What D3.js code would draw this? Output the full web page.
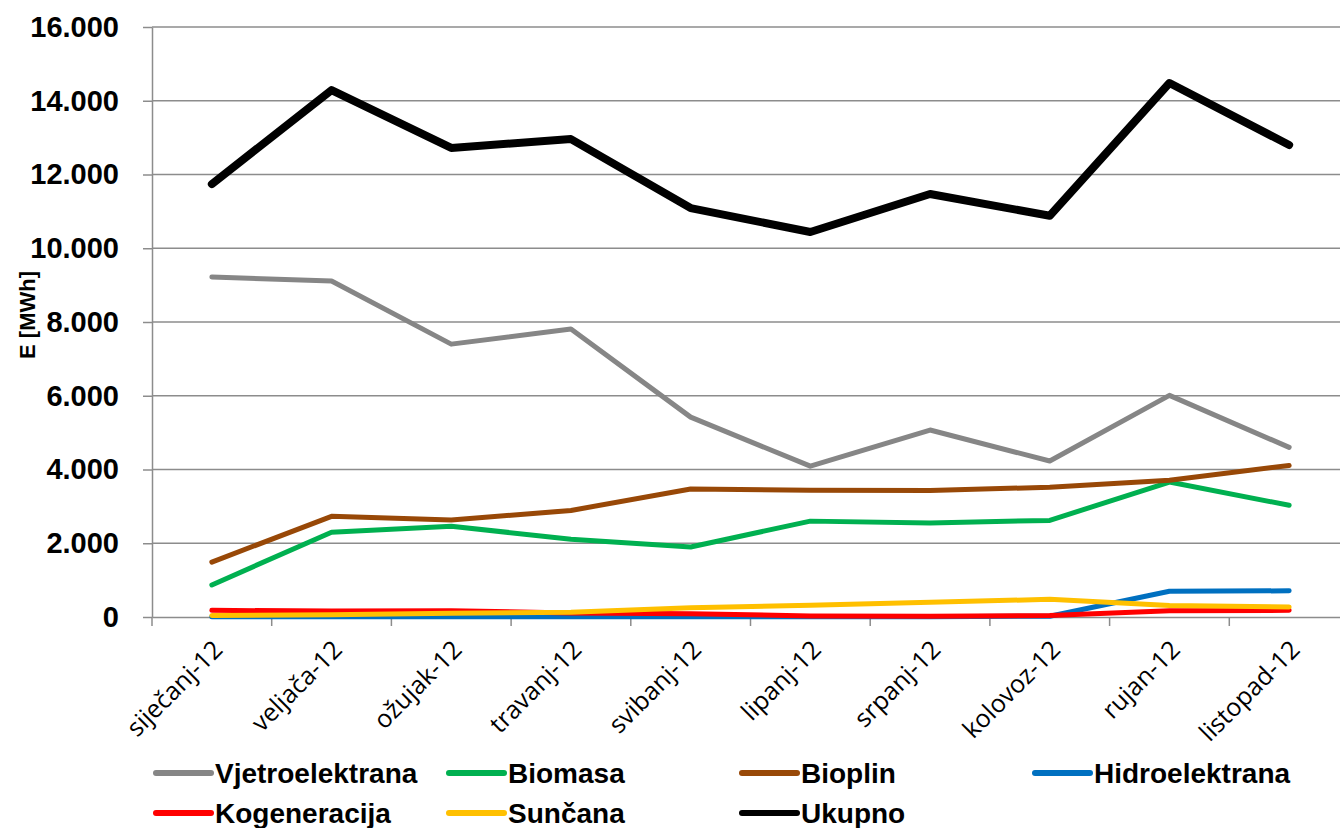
<!DOCTYPE html>
<html>
<head>
<meta charset="utf-8">
<script src="https://cdn.jsdelivr.net/npm/d3@7"></script>
<style>
  html, body { margin: 0; padding: 0; background: #fff; }
  svg { display: block; }
</style>
</head>
<body>
<svg id="chart" width="1340" height="828"></svg>
<script>
// Months of 2012
const months = ["siječanj-12", "veljača-12", "ožujak-12", "travanj-12", "svibanj-12",
                "lipanj-12", "srpanj-12", "kolovoz-12", "rujan-12", "listopad-12"];

// Monthly energy per source, MWh
const vjetroelektrana = [9220, 9110, 7400, 7810, 5420, 4090, 5070, 4230, 6010, 4600];
const biomasa        = [870, 2300, 2460, 2110, 1900, 2600, 2550, 2620, 3660, 3030];
const bioplin        = [1490, 2730, 2630, 2890, 3470, 3440, 3430, 3520, 3710, 4110];
const hidroelektrana = [5, 5, 5, 5, 10, 10, 10, 20, 700, 710];
const kogeneracija   = [180, 160, 170, 110, 90, 30, 20, 40, 170, 180];
const suncana        = [40, 60, 100, 130, 250, 320, 400, 480, 310, 270];
const ukupno         = [11740, 14290, 12720, 12960, 11090, 10440, 11470, 10880, 14480, 12800];

const yTicks = [0, 2000, 4000, 6000, 8000, 10000, 12000, 14000, 16000];

const seriesList = [
  { name: "Vjetroelektrana", values: vjetroelektrana, color: "#868686", width: 5 },
  { name: "Biomasa",         values: biomasa,         color: "#00B050", width: 5 },
  { name: "Bioplin",         values: bioplin,         color: "#984807", width: 5 },
  { name: "Hidroelektrana",  values: hidroelektrana,  color: "#0070C0", width: 5 },
  { name: "Kogeneracija",    values: kogeneracija,    color: "#FF0000", width: 5 },
  { name: "Sunčana",         values: suncana,         color: "#FFC000", width: 5 },
  { name: "Ukupno",          values: ukupno,          color: "#000000", width: 8 }
];

const svg = d3.select("#chart");
const plot = { left: 152, right: 1349, top: 27, bottom: 617 };

const x = d3.scaleBand().domain(months).range([plot.left, plot.right]);
const y = d3.scaleLinear().domain([0, 16000]).range([plot.bottom, plot.top]);

const fmt = v => d3.format(",")(v).replace(/,/g, ".");
const gridColor = "#8c8c8c";

// horizontal gridlines
svg.append("g").selectAll("line").data(yTicks.filter(t => t > 0)).join("line")
  .attr("x1", plot.left).attr("x2", plot.right)
  .attr("y1", d => y(d)).attr("y2", d => y(d))
  .attr("stroke", gridColor).attr("stroke-width", 1.5);

// y axis
const yAxis = svg.append("g")
  .attr("transform", `translate(${plot.left},0)`)
  .call(d3.axisLeft(y).tickValues(yTicks).tickFormat(fmt).tickSizeInner(9).tickSizeOuter(0).tickPadding(24));
yAxis.select(".domain").attr("stroke", gridColor).attr("stroke-width", 1.5);
yAxis.selectAll(".tick line").attr("stroke", gridColor).attr("stroke-width", 1.5);
yAxis.selectAll(".tick text")
  .attr("fill", "#000")
  .style("font-family", "'Liberation Sans', Arial, sans-serif")
  .style("font-weight", "bold")
  .style("font-size", "29px");

// x axis line
const xAxis = svg.append("g")
  .attr("transform", `translate(0,${plot.bottom})`)
  .call(d3.axisBottom(x).tickSizeInner(0).tickSizeOuter(0).tickFormat(""));
xAxis.select(".domain").attr("stroke", gridColor).attr("stroke-width", 1.5);
xAxis.selectAll(".tick").remove();

// category boundary ticks
const bounds = months.map(m => x(m)).concat([plot.right]);
svg.append("g").selectAll("line").data(bounds).join("line")
  .attr("x1", d => d).attr("x2", d => d)
  .attr("y1", plot.bottom).attr("y2", plot.bottom + 9)
  .attr("stroke", gridColor).attr("stroke-width", 1.5);

// rotated month labels
svg.append("g").selectAll("text").data(months).join("text")
  .attr("transform", d => `translate(${x(d) + x.bandwidth() / 2 + 6},${plot.bottom + 28}) rotate(-45)`)
  .attr("text-anchor", "end")
  .attr("dy", "0.35em")
  .style("font-family", "'Open Sans', sans-serif")
  .style("font-size", "25px")
  .attr("fill", "#000")
  .text(d => d);

// y axis title
svg.append("text")
  .attr("transform", `translate(27,315) rotate(-90)`)
  .attr("text-anchor", "middle")
  .attr("dy", "0.35em")
  .style("font-family", "'Liberation Sans', Arial, sans-serif")
  .style("font-weight", "bold")
  .style("font-size", "22px")
  .attr("fill", "#000")
  .text("E [MWh]");

// series lines
const line = d3.line()
  .x((d, i) => x(months[i]) + x.bandwidth() / 2)
  .y(d => y(d));

svg.append("g").selectAll("path").data(seriesList).join("path")
  .attr("d", d => line(d.values))
  .attr("fill", "none")
  .attr("stroke", d => d.color)
  .attr("stroke-width", d => d.width)
  .attr("stroke-linejoin", "round")
  .attr("stroke-linecap", "round");

// legend
const legendCols = [156, 449, 742, 1035];
const legendRows = [773, 813];
const legend = svg.append("g").selectAll("g").data(seriesList).join("g")
  .attr("transform", (d, i) => `translate(${legendCols[i % 4]},${legendRows[Math.floor(i / 4)]})`);
legend.append("line")
  .attr("x1", 0).attr("x2", 55).attr("y1", 0).attr("y2", 0)
  .attr("stroke", d => d.color)
  .attr("stroke-width", 6)
  .attr("stroke-linecap", "round");
legend.append("text")
  .attr("x", 59).attr("dy", "0.36em")
  .style("font-family", "'Liberation Sans', Arial, sans-serif")
  .style("font-weight", "bold")
  .style("font-size", "28px")
  .attr("fill", "#000")
  .text(d => d.name);
</script>
</body>
</html>
